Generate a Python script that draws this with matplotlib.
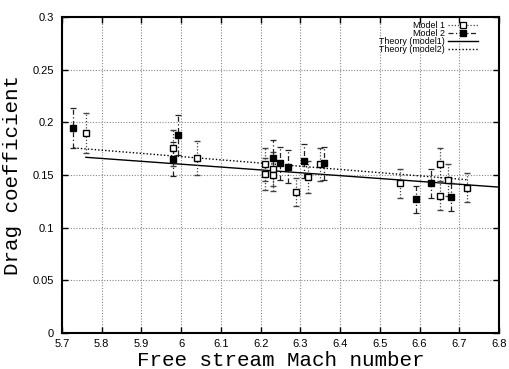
import matplotlib
matplotlib.use("Agg")
import matplotlib.pyplot as plt
from matplotlib.lines import Line2D

# Model 1 (open squares)
m1_x = [5.76, 5.979, 6.039, 6.21, 6.21, 6.23, 6.23, 6.29, 6.32, 6.35, 6.551, 6.651, 6.651, 6.671, 6.72]
m1_y = [0.190, 0.176, 0.166, 0.160, 0.151, 0.156, 0.150, 0.134, 0.148, 0.160, 0.142, 0.160, 0.130, 0.145, 0.138]
m1_err = [0.019, 0.017, 0.016, 0.016, 0.015, 0.016, 0.015, 0.013, 0.015, 0.016, 0.014, 0.016, 0.013, 0.015, 0.014]

# Model 2 (filled squares)
m2_x = [5.728, 5.98, 5.991, 6.23, 6.249, 6.269, 6.31, 6.36, 6.59, 6.63, 6.68]
m2_y = [0.195, 0.165, 0.188, 0.166, 0.161, 0.158, 0.163, 0.161, 0.127, 0.142, 0.129]
m2_err = [0.019, 0.016, 0.019, 0.017, 0.016, 0.016, 0.016, 0.016, 0.013, 0.014, 0.013]

# Theory curves
th1_x = [5.76, 6.8]
th1_y = [0.1668, 0.1385]
th2_x = [5.73, 6.72]
th2_y = [0.1757, 0.1455]

xticks = [5.7, 5.8, 5.9, 6.0, 6.1, 6.2, 6.3, 6.4, 6.5, 6.6, 6.7, 6.8]
xticklabels = ["5.7", "5.8", "5.9", "6", "6.1", "6.2", "6.3", "6.4", "6.5", "6.6", "6.7", "6.8"]
yticks = [0, 0.05, 0.1, 0.15, 0.2, 0.25, 0.3]
yticklabels = ["0", "0.05", "0.1", "0.15", "0.2", "0.25", "0.3"]

DOT = (0, (1, 1.5))
DASHDOT = (0, (4, 2, 1, 2))

fig = plt.figure(figsize=(5.09, 3.69), dpi=100)
ax = fig.add_axes([62/509, 36/369, 437/509, 316/369])

e1 = ax.errorbar(m1_x, m1_y, yerr=m1_err, fmt='s', mfc='white', mec='black', mew=1.0,
                 ms=5, ecolor='#444444', elinewidth=0.9, capsize=2, capthick=0.9,
                 zorder=4)
e1[2][0].set_linestyle(DOT)
e2 = ax.errorbar(m2_x, m2_y, yerr=m2_err, fmt='s', mfc='black', mec='black',
                 ms=5, ecolor='#222222', elinewidth=0.9, capsize=2, capthick=0.9,
                 zorder=4)
e2[2][0].set_linestyle(DASHDOT)

ax.plot(th1_x, th1_y, '-', color='black', lw=1.0, zorder=3)
ax.plot(th2_x, th2_y, linestyle=DOT, color='black', lw=1.0, zorder=3)

ax.set_xlim(5.7, 6.8)
ax.set_ylim(0, 0.3)
ax.set_xticks(xticks)
ax.set_xticklabels(xticklabels, fontsize=8, family='Liberation Sans')
ax.set_yticks(yticks)
ax.set_yticklabels(yticklabels, fontsize=8, family='Liberation Sans')
ax.tick_params(direction='in', length=4, width=1, top=True, right=True)
ax.tick_params(axis='x', pad=4)
ax.tick_params(axis='y', pad=6)
ax.grid(True, linestyle=DOT, color='#888888', lw=0.8)
for s in ax.spines.values():
    s.set_linewidth(1.5)

ax.set_xlabel('Free stream Mach number', family='Liberation Mono', fontsize=15, labelpad=2)
ax.set_ylabel('Drag coefficient', family='Liberation Mono', fontsize=15, labelpad=7)

handles = [
    Line2D([], [], color='#444444', lw=0.9, linestyle=DOT, marker='s', ms=4,
           mfc='white', mec='black', mew=0.9),
    Line2D([], [], color='#222222', lw=0.9, linestyle=DASHDOT, marker='s', ms=4,
           mfc='black', mec='black'),
    Line2D([], [], color='black', lw=1.0, linestyle='-'),
    Line2D([], [], color='black', lw=1.0, linestyle=DOT),
]
labels = ['Model 1', 'Model 2', 'Theory (model1)', 'Theory (model2)']
leg = ax.legend(handles, labels, loc='upper right', frameon=False, markerfirst=False,
                numpoints=1, prop={'family': 'Liberation Sans', 'size': 6.4},
                labelspacing=-0.1, handlelength=3.4, handletextpad=0.35,
                bbox_to_anchor=((478 - 62) / 437, (333 - 21) / 316),
                borderaxespad=0, borderpad=0)

fig.savefig('out.png', dpi=100)
